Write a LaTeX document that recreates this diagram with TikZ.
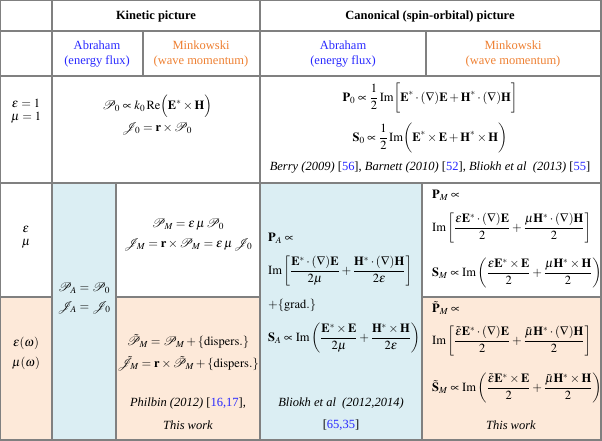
\documentclass[tikz,border=0pt]{standalone}
\usepackage{amsmath}
\usepackage{mathptmx}
\usepackage{fontspec}
\setmainfont{Liberation Serif}
\definecolor{linegray}{RGB}{128,128,128}
\definecolor{fillblue}{RGB}{219,238,243}
\definecolor{fillorange}{RGB}{253,233,217}
\definecolor{txtblue}{RGB}{40,40,255}
\definecolor{txtorange}{RGB}{238,128,50}
\tikzset{
  grid/.style={draw=linegray,line width=1.3pt},
  txt/.style={inner sep=0pt,align=center},
  ltxt/.style={inner sep=0pt,anchor=west},
  hdr/.style={inner sep=0pt,font=\fontsize{12.5}{15}\selectfont\bfseries},
  abr/.style={inner sep=0pt,align=center,text=txtblue},
  mink/.style={inner sep=0pt,align=center,text=txtorange},
}
\newcommand{\bE}{\mathbf{E}}
\newcommand{\bH}{\mathbf{H}}
\newcommand{\citeref}[1]{[\textcolor{txtblue}{#1}]}
\begin{document}
\begin{tikzpicture}[x=1pt,y=-1pt,font=\fontsize{12.5}{15}\selectfont]
\useasboundingbox (0,0) rectangle (602,441);
% fills
\fill[fillblue] (52,183) rectangle (116,440);
\fill[fillblue] (260,183) rectangle (422,440);
\fill[fillorange] (0.7,297) rectangle (52,440);
\fill[fillorange] (116,297) rectangle (260,440);
\fill[fillorange] (422,297) rectangle (601,440);
% grid
\draw[grid] (0.7,0.7) rectangle (601,440);
\draw[grid] (0.7,31) -- (601,31);
\draw[grid] (0.7,76) -- (601,76);
\draw[grid] (0.7,183) -- (601,183);
\draw[grid] (0.7,297) -- (52,297);
\draw[grid] (116,297) -- (260,297);
\draw[grid] (422,297) -- (601,297);
\draw[grid] (52,0.7) -- (52,440);
\draw[grid] (260,0.7) -- (260,440);
\draw[grid] (143,31) -- (143,76);
\draw[grid] (426,31) -- (426,76);
\draw[grid] (116,183) -- (116,440);
\draw[grid] (422,183) -- (422,440);
% headers
\node[hdr] (kin) at (156,16) {Kinetic picture};
\node[hdr] (can) at (430,16) {Canonical (spin-orbital) picture};
\node[abr] (kA) at (97,54) {Abraham\\(energy flux)};
\node[mink] (kM) at (201,54) {Minkowski\\(wave momentum)};
\node[abr] (cA) at (343,54) {Abraham\\(energy flux)};
\node[mink] (cM) at (513,54) {Minkowski\\(wave momentum)};
% left column
\node[txt] (e1) at (26,103) {$\varepsilon=1$};
\node[txt] (m1) at (26,118) {$\mu=1$};
\node[txt] (e2) at (26,229) {$\varepsilon$};
\node[txt] (m2) at (26,244) {$\mu$};
\node[txt] (e3) at (26,343) {$\varepsilon(\omega)$};
\node[txt] (m3) at (26,363) {$\mu(\omega)$};
% kinetic vacuum
\node[txt] (kP0) at (157,106) {$\mathcal{P}_0\propto k_0\,\mathrm{Re}\Bigl(\bE^*\times\bH\Bigr)$};
\node[txt] (kJ0) at (157,129) {$\mathcal{J}_0=\mathbf{r}\times\mathcal{P}_0$};
% canonical vacuum
\node[txt] (cP0) at (430,98) {$\displaystyle \mathbf{P}_0\propto\frac{1}{2}\,\mathrm{Im}\biggl[\bE^*\cdot(\nabla)\bE+\bH^*\cdot(\nabla)\bH\biggr]$};
\node[txt] (cS0) at (430,138) {$\displaystyle \mathbf{S}_0\propto\frac{1}{2}\,\mathrm{Im}\biggl(\bE^*\times\bE+\bH^*\times\bH\biggr)$};
\node[txt] (cite0) at (430,168) {\textit{Berry (2009)} \citeref{56}, \textit{Barnett (2010)} \citeref{52}, \textit{Bliokh et al\ \ (2013)} \citeref{55}};
% kinetic Abraham
\node[txt] (kPA) at (84,288) {$\mathcal{P}_A=\mathcal{P}_0$};
\node[txt] (kJA) at (84,308) {$\mathcal{J}_A=\mathcal{J}_0$};
% kinetic Minkowski
\node[txt] (kPM) at (188,225) {$\mathcal{P}_M=\varepsilon\,\mu\,\mathcal{P}_0$};
\node[txt] (kJM) at (188,245) {$\mathcal{J}_M=\mathbf{r}\times\mathcal{P}_M=\varepsilon\,\mu\,\mathcal{J}_0$};
\node[txt] (kPMt) at (188,342) {$\tilde{\mathcal{P}}_M=\mathcal{P}_M+\{\mathrm{dispers.}\}$};
\node[txt] (kJMt) at (188,364) {$\tilde{\mathcal{J}}_M=\mathbf{r}\times\tilde{\mathcal{P}}_M+\{\mathrm{dispers.}\}$};
\node[txt] (citeP) at (188,403) {\textit{Philbin (2012)} \citeref{16,17},};
\node[txt] (tw1) at (188,425) {\textit{This work}};
% canonical Abraham
\node[ltxt] (cPA) at (268,238) {$\mathbf{P}_A\propto$};
\node[ltxt] (cPAim) at (268,271) {$\displaystyle \mathrm{Im}\left[\frac{\bE^*\cdot(\nabla)\bE}{2\mu}+\frac{\bH^*\cdot(\nabla)\bH}{2\varepsilon}\right]$};
\node[ltxt] (grad) at (268,305) {$+\{\mathrm{grad.}\}$};
\node[ltxt] (cSA) at (268,338) {$\displaystyle \mathbf{S}_A\propto\mathrm{Im}\left(\frac{\bE^*\times\bE}{2\mu}+\frac{\bH^*\times\bH}{2\varepsilon}\right)$};
\node[txt] (citeB) at (341,403) {\textit{Bliokh et al\ \ (2012,2014)}};
\node[txt] (citeB2) at (341,425) {\citeref{65,35}};
% canonical Minkowski
\node[ltxt] (cPM) at (432,195) {$\mathbf{P}_M\propto$};
\node[ltxt] (cPMim) at (432,228) {$\displaystyle \mathrm{Im}\left[\frac{\varepsilon\bE^*\cdot(\nabla)\bE}{2}+\frac{\mu\bH^*\cdot(\nabla)\bH}{2}\right]$};
\node[ltxt] (cSM) at (432,273) {$\displaystyle \mathbf{S}_M\propto\mathrm{Im}\left(\frac{\varepsilon\bE^*\times\bE}{2}+\frac{\mu\bH^*\times\bH}{2}\right)$};
\node[ltxt] (cPMt) at (432,308) {$\tilde{\mathbf{P}}_M\propto$};
\node[ltxt] (cPMtim) at (432,341) {$\displaystyle \mathrm{Im}\left[\frac{\tilde{\varepsilon}\bE^*\cdot(\nabla)\bE}{2}+\frac{\tilde{\mu}\bH^*\cdot(\nabla)\bH}{2}\right]$};
\node[ltxt] (cSMt) at (432,388) {$\displaystyle \tilde{\mathbf{S}}_M\propto\mathrm{Im}\left(\frac{\tilde{\varepsilon}\bE^*\times\bE}{2}+\frac{\tilde{\mu}\bH^*\times\bH}{2}\right)$};
\node[txt] (tw2) at (511,425) {\textit{This work}};
\end{tikzpicture}
\end{document}
